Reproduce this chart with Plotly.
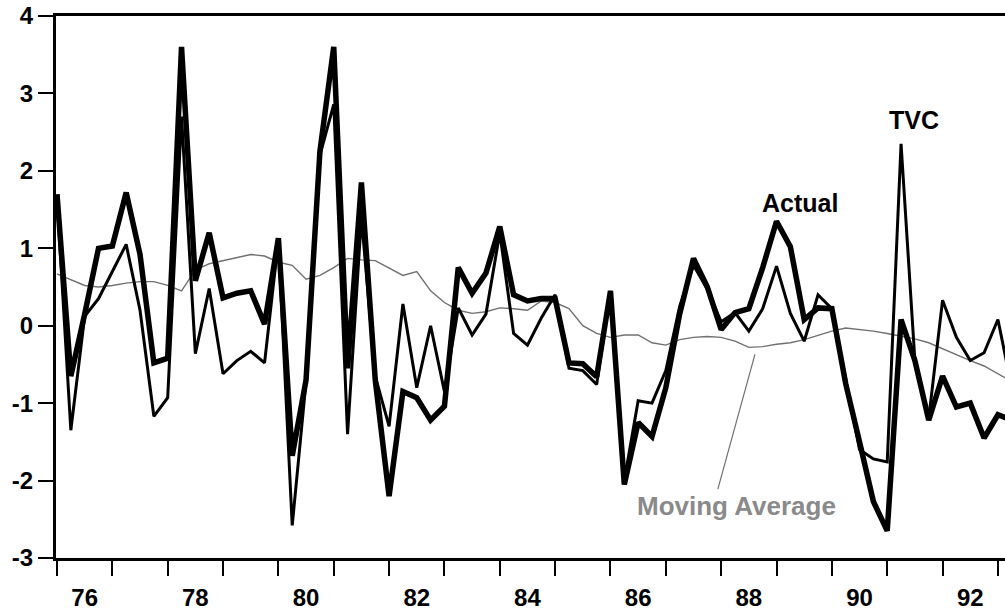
import plotly.graph_objects as go
import pandas as pd

# ---- data (quarterly, 1976Q1 .. 1993Q2) ----
quarters = pd.period_range("1976Q1", periods=70, freq="Q")

actual = [
    1.70, -0.65, 0.15, 1.00, 1.03, 1.72, 0.92, -0.48, -0.42, 3.60,
    0.58, 1.20, 0.36, 0.42, 0.45, 0.02, 1.13, -1.68, -0.70, 2.25,
    3.60, -0.55, 1.85, -0.70, -2.20, -0.85, -0.93, -1.22, -1.04, 0.75,
    0.42, 0.68, 1.28, 0.40, 0.32, 0.35, 0.35, -0.48, -0.49, -0.66,
    0.45, -2.05, -1.25, -1.43, -0.80, 0.15, 0.87, 0.50, -0.05, 0.17,
    0.22, 0.75, 1.35, 1.02, 0.08, 0.23, 0.22, -0.75, -1.50, -2.27,
    -2.65, 0.08, -0.45, -1.22, -0.65, -1.05, -1.00, -1.45, -1.15, -1.22,
]

tvc = [
    1.65, -1.35, 0.12, 0.35, 0.70, 1.05, 0.20, -1.17, -0.93, 2.70,
    -0.36, 0.48, -0.62, -0.45, -0.33, -0.48, 1.10, -2.58, -0.72, 2.20,
    2.86, -1.40, 1.40, -0.65, -1.30, 0.28, -0.80, 0.00, -0.85, 0.23,
    -0.12, 0.15, 1.20, -0.10, -0.25, 0.10, 0.40, -0.55, -0.58, -0.76,
    0.45, -2.00, -0.97, -1.00, -0.58, 0.25, 0.78, 0.47, 0.05, 0.17,
    -0.07, 0.22, 0.77, 0.16, -0.20, 0.40, 0.22, -0.68, -1.60, -1.72,
    -1.76, 2.35, -0.45, -1.20, 0.33, -0.15, -0.45, -0.35, 0.08, -0.80,
]

moving_avg = [
    0.67, 0.60, 0.52, 0.50, 0.52, 0.55, 0.57, 0.57, 0.52, 0.45,
    0.72, 0.80, 0.84, 0.88, 0.92, 0.90, 0.82, 0.78, 0.60, 0.65,
    0.75, 0.87, 0.85, 0.84, 0.75, 0.65, 0.70, 0.45, 0.30, 0.20,
    0.16, 0.18, 0.23, 0.22, 0.20, 0.32, 0.30, 0.22, 0.00, -0.10,
    -0.15, -0.12, -0.12, -0.22, -0.25, -0.18, -0.15, -0.14, -0.15, -0.20,
    -0.28, -0.27, -0.24, -0.22, -0.18, -0.12, -0.07, -0.03, -0.05, -0.07,
    -0.10, -0.14, -0.17, -0.22, -0.30, -0.38, -0.45, -0.52, -0.62, -0.72,
]

y_ticks = [-3, -2, -1, 0, 1, 2, 3, 4]
label_years = [1976, 1978, 1980, 1982, 1984, 1986, 1988, 1990, 1992]
boundary_years = list(range(1976, 1994))

x = [p.year + (p.quarter - 1) / 4 for p in quarters]

FONT = "Liberation Sans, Arial, Helvetica, sans-serif"
GRAY = "#707070"

fig = go.Figure()
fig.add_trace(go.Scatter(x=x, y=moving_avg, mode="lines",
                         line=dict(color=GRAY, width=1.4), name="Moving Average"))
fig.add_trace(go.Scatter(x=x, y=actual, mode="lines",
                         line=dict(color="black", width=5.5), name="Actual"))
fig.add_trace(go.Scatter(x=x, y=tvc, mode="lines",
                         line=dict(color="black", width=3), name="TVC"))

fig.update_layout(
    width=1005, height=611,
    margin=dict(l=56, r=0, t=16, b=42),
    plot_bgcolor="white", paper_bgcolor="white",
    showlegend=False,
    font=dict(family=FONT, color="black"),
)

fig.update_xaxes(
    range=[1975.982, 1993.128],
    tickmode="array",
    tickvals=[yr + 0.5 for yr in label_years],
    ticktext=[str(yr)[2:] for yr in label_years],
    ticks="outside", ticklen=16, tickcolor="rgba(0,0,0,0)",
    tickfont=dict(size=24, weight="bold", family=FONT, color="black"),
    showline=True, linewidth=3, linecolor="black", mirror=True,
    showgrid=False, zeroline=False,
    minor=dict(tickmode="array", tickvals=boundary_years, ticks="outside",
               ticklen=15, tickwidth=2, tickcolor="black", showgrid=False),
)

fig.update_yaxes(
    range=[-3, 4],
    tickmode="array", tickvals=y_ticks, ticktext=[str(v) for v in y_ticks],
    ticks="outside", ticklen=15, tickwidth=2, tickcolor="black",
    tickfont=dict(size=24, weight="bold", family=FONT, color="black"),
    showline=True, linewidth=3, linecolor="black", mirror=False,
    showgrid=False, zeroline=False,
)

fig.add_annotation(x=1989.42, y=1.58, text="Actual", showarrow=False,
                   font=dict(size=25, weight="bold", family=FONT, color="black"))
fig.add_annotation(x=1991.48, y=2.66, text="TVC", showarrow=False,
                   font=dict(size=25, weight="bold", family=FONT, color="black"))
fig.add_annotation(x=1988.27, y=-2.33, text="Moving Average", showarrow=False,
                   font=dict(size=26, weight="bold", family=FONT, color="#8a8a8a"))
fig.add_shape(type="line", xref="x", yref="y",
              x0=1987.94, y0=-2.11, x1=1988.61, y1=-0.37,
              line=dict(color=GRAY, width=1.2))

fig.write_html("out.html")
